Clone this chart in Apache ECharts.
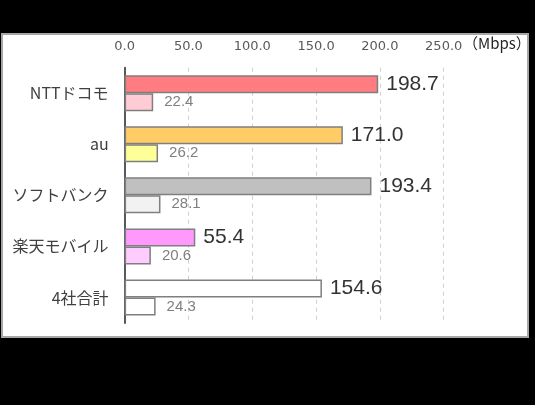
<!DOCTYPE html>
<html><head><meta charset="utf-8">
<script src="https://cdn.jsdelivr.net/npm/echarts@6/dist/echarts.min.js"></script>
<style>html,body{margin:0;padding:0;background:#000;}#c{width:535px;height:405px;}</style>
</head><body><div id="c"></div>
<script>
const categories = ['NTTドコモ', 'au', 'ソフトバンク', '楽天モバイル', '4社合計'];
const mainValues = [198.7, 171.0, 193.4, 55.4, 154.6];
const subValues = [22.4, 26.2, 28.1, 20.6, 24.3];
const mainColors = ['#FF7C80', '#FFCC66', '#C0C0C0', '#FF99FF', '#FFFFFF'];
const subColors = ['#FFCCD5', '#FFFF99', '#F2F2F2', '#FFCCFF', '#FFFFFF'];
const xTicks = [0, 50, 100, 150, 200, 250];
const unitLabel = '（Mbps）';

const chart = echarts.init(document.getElementById('c'), null, {renderer: 'canvas'});
const font = '"Noto Sans CJK JP", "Liberation Sans", Arial, sans-serif';
chart.setOption({
  backgroundColor: '#000',
  animation: false,
  textStyle: {fontFamily: font},
  graphic: [{
    type: 'rect', z: -10, silent: true,
    shape: {x: 2, y: 34, width: 526, height: 303},
    style: {fill: '#fff', stroke: '#a6a6a6', lineWidth: 2}
  }, {
    type: 'text', left: 463, top: 36, silent: true,
    style: {text: unitLabel, fill: '#262626', font: '15px ' + font}
  }],
  grid: {left: 124.6, right: 91.3, top: 67.7, bottom: 82, containLabel: false},
  xAxis: {
    type: 'value', position: 'top', min: xTicks[0], max: xTicks[xTicks.length - 1], interval: 50,
    axisLine: {show: false}, axisTick: {show: false},
    axisLabel: {color: '#595959', fontSize: 13, margin: 15, formatter: v => v.toFixed(1), fontFamily: 'DejaVu Sans'},
    splitLine: {show: true, lineStyle: {color: '#d0d0d0', type: [4, 4], width: 1}}
  },
  yAxis: {
    type: 'category', data: categories, inverse: true,
    axisLine: {show: true, lineStyle: {color: '#595959', width: 2}},
    axisTick: {show: false},
    axisLabel: {color: '#404040', fontSize: 16, margin: 16, fontFamily: font}
  },
  series: [{
    type: 'bar', data: mainValues.map((v, i) => ({value: v, itemStyle: {color: mainColors[i]}})),
    barWidth: 18, barGap: '0%',
    itemStyle: {borderColor: '#7f7f7f', borderWidth: 1.5},
    label: {show: true, position: 'right', distance: 8, color: '#333', fontSize: 21, fontFamily: 'Liberation Sans', formatter: p => p.value.toFixed(1)}
  }, {
    type: 'bar', data: subValues.map((v, i) => ({value: v, itemStyle: {color: subColors[i]}})),
    barWidth: 18, barGap: '0%',
    itemStyle: {borderColor: '#7f7f7f', borderWidth: 1.5},
    label: {show: true, position: 'right', distance: 11, color: '#7f7f7f', fontSize: 15, fontFamily: 'Liberation Sans', formatter: p => p.value.toFixed(1)}
  }]
});
</script></body></html>
